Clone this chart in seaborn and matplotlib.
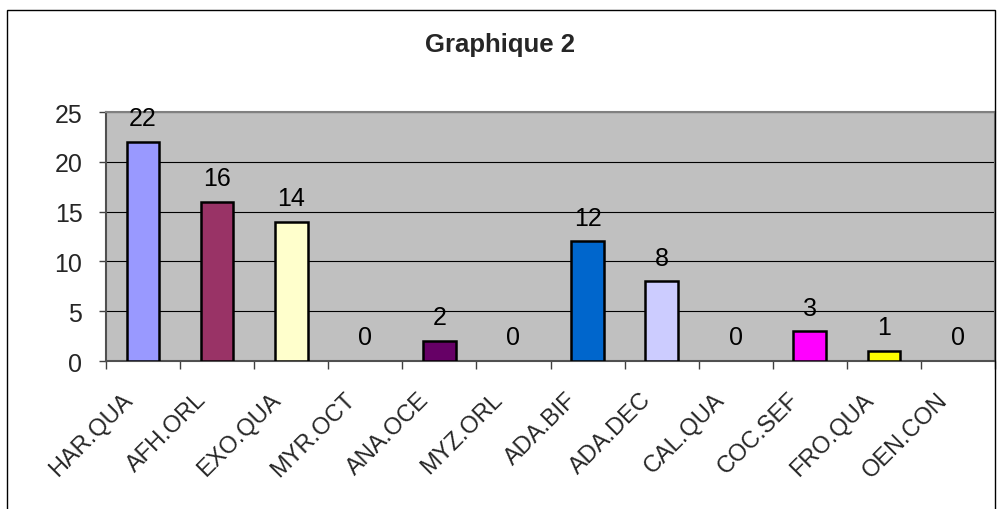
import matplotlib
matplotlib.use("Agg")
import matplotlib.pyplot as plt
import matplotlib.transforms as mtransforms
from matplotlib.patches import Rectangle
import seaborn as sns
import pandas as pd

categories = ["HAR.QUA", "AFH.ORL", "EXO.QUA", "MYR.OCT", "ANA.OCE", "MYZ.ORL",
              "ADA.BIF", "ADA.DEC", "CAL.QUA", "COC.SEF", "FRO.QUA", "OEN.CON"]
values = [22, 16, 14, 0, 2, 0, 12, 8, 0, 3, 1, 0]
colors = ["#9999FF", "#993366", "#FFFFCC", "#CCFFFF", "#660066", "#FF8080",
          "#0066CC", "#CCCCFF", "#000080", "#FF00FF", "#FFFF00", "#00FFFF"]
yticks = [0, 5, 10, 15, 20, 25]
title = "Graphique 2"

sns.set_theme(style="white")
plt.rcParams["font.family"] = ["Liberation Sans", "DejaVu Sans"]

df = pd.DataFrame({"cat": categories, "val": values})

fig = plt.figure(figsize=(10.02, 5.10), dpi=100)
fig.patches.append(Rectangle((7 / 1002, -0.01), (995 - 7) / 1002, 1.01 - 11 / 510,
                             transform=fig.transFigure, fill=False,
                             edgecolor="black", linewidth=1.0))
ax = fig.add_axes([106 / 1002, 1 - 362 / 510, (995 - 106) / 1002, (362 - 113) / 510])
ax.set_facecolor("#C0C0C0")

sns.barplot(data=df, x="cat", y="val", hue="cat", palette=colors, legend=False,
            saturation=1, width=0.44, edgecolor="black", linewidth=1.8, ax=ax, zorder=3)

for p in ax.patches:
    if abs(p.get_height()) < 1e-9:
        p.set_linewidth(0)
        p.set_visible(False)

ax.set_ylim(0, 25)
ax.set_xlim(-0.5, len(categories) - 0.5)
ax.set_yticks(yticks)
ax.set_yticklabels([str(v) for v in yticks], fontsize=18)
ax.yaxis.grid(True, color="black", linewidth=0.8, zorder=0)
ax.set_axisbelow(True)
ax.set_xlabel("")
ax.set_ylabel("")

for s in ["top", "right"]:
    ax.spines[s].set_color("#808080")
    ax.spines[s].set_linewidth(1.5)
for s in ["left", "bottom"]:
    ax.spines[s].set_color("#505050")
    ax.spines[s].set_linewidth(1.5)

ax.tick_params(axis="y", direction="out", length=5, width=1, color="#404040", pad=12, left=True)
ax.set_xticks(range(len(categories)))
ax.set_xticklabels(categories, rotation=45, ha="right", va="center",
                   rotation_mode="anchor", fontsize=17)
ax.tick_params(axis="x", length=0, pad=0)
offset = mtransforms.ScaledTranslation(-14 / 100, -35 / 100, fig.dpi_scale_trans)
for lab in ax.get_xticklabels():
    lab.set_transform(lab.get_transform() + offset)

ax.set_xticks([i + 0.5 for i in range(-1, len(categories))], minor=True)
ax.tick_params(axis="x", which="minor", direction="out", length=6, width=1,
               color="#404040", bottom=True)

for i, v in enumerate(values):
    ax.annotate(str(v), (i, v), xytext=(0, 17), textcoords="offset points",
                ha="center", va="center", fontsize=18, color="black", zorder=5)

fig.text(500 / 1002, 1 - 45 / 510, title, ha="center", va="center",
         fontsize=18.5, fontweight="bold")

fig.savefig("out.png", dpi=100)
